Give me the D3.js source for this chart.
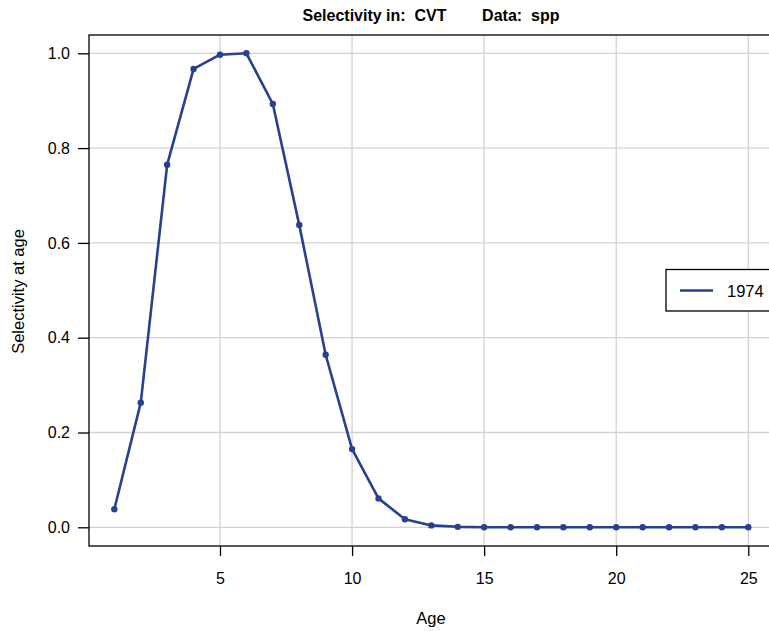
<!DOCTYPE html>
<html><head><meta charset="utf-8">
<script src="https://cdn.jsdelivr.net/npm/d3@7"></script>
<style>body{margin:0;background:#fff}svg{display:block;font-family:"Liberation Sans",Arial,sans-serif}</style>
</head><body>
<script>
const ages = d3.range(1, 26);
const selectivity = [0.038, 0.263, 0.765, 0.967, 0.997, 1.0, 0.893, 0.638, 0.364, 0.165, 0.061, 0.017, 0.004, 0.001, 0, 0, 0, 0, 0, 0, 0, 0, 0, 0, 0];
const xTicks = [5, 10, 15, 20, 25];
const yTicks = [0, 0.2, 0.4, 0.6, 0.8, 1.0];
const seriesName = "1974";
const title = "Selectivity in:  CVT        Data:  spp";

const W = 769, H = 631;
const L = 89, T = 35, R = 780, B = 546;
const color = "#27408f";
const svg = d3.select("body").append("svg").attr("width", W).attr("height", H);
const x = d3.scaleLinear().domain([5, 25]).range([220, 748.3]);
const y = d3.scaleLinear().domain([0, 1]).range([527.3, 53.3]);

const g = svg.append("g");
g.selectAll(".vg").data(xTicks).join("line")
  .attr("x1", d => x(d)).attr("x2", d => x(d)).attr("y1", T).attr("y2", B)
  .attr("stroke", "#d3d3d3").attr("stroke-width", 1.3);
g.selectAll(".hg").data(yTicks).join("line")
  .attr("x1", L).attr("x2", R).attr("y1", d => y(d)).attr("y2", d => y(d))
  .attr("stroke", "#d3d3d3").attr("stroke-width", 1.3);

svg.append("rect").attr("x", L).attr("y", T).attr("width", R - L).attr("height", B - T)
  .attr("fill", "none").attr("stroke", "#000").attr("stroke-width", 1.3);

const xAxis = d3.axisBottom(x).tickValues(xTicks).tickFormat(d3.format("d")).tickSize(10).tickPadding(17);
const xa = svg.append("g").attr("transform", `translate(0,${B})`).call(xAxis);
xa.select(".domain").remove();
xa.selectAll("line").attr("stroke-width", 1.3);
xa.selectAll("text").attr("font-size", 16).attr("fill", "#000").attr("font-family", "Liberation Sans, Arial");

const yAxis = d3.axisLeft(y).tickValues(yTicks).tickFormat(d3.format(".1f")).tickSize(11).tickPadding(8);
const ya = svg.append("g").attr("transform", `translate(${L},0)`).call(yAxis);
ya.select(".domain").remove();
ya.selectAll("line").attr("stroke-width", 1.3);
ya.selectAll("text").attr("font-size", 16).attr("fill", "#000").attr("font-family", "Liberation Sans, Arial");

const line = d3.line().x((d, i) => x(ages[i])).y(d => y(d));
svg.append("path").datum(selectivity).attr("d", line)
  .attr("fill", "none").attr("stroke", color).attr("stroke-width", 2.6).attr("stroke-linejoin", "round");
svg.selectAll(".pt").data(selectivity).join("circle")
  .attr("cx", (d, i) => x(ages[i])).attr("cy", d => y(d)).attr("r", 3.2).attr("fill", color);

svg.append("text").attr("x", 431).attr("y", 21).attr("text-anchor", "middle")
  .attr("font-size", 16).attr("font-weight", "bold")
  .style("white-space", "pre").text(title);
svg.append("text").attr("x", 431).attr("y", 624).attr("text-anchor", "middle").attr("font-size", 16.5).text("Age");
svg.append("text").attr("transform", "translate(24,291.5) rotate(-90)").attr("text-anchor", "middle")
  .attr("font-size", 16.5).text("Selectivity at age");

const lg = svg.append("g");
lg.append("rect").attr("x", 666).attr("y", 269.5).attr("width", 120).attr("height", 41.5)
  .attr("fill", "#fff").attr("stroke", "#000").attr("stroke-width", 1.3);
lg.append("line").attr("x1", 680).attr("x2", 713).attr("y1", 290.5).attr("y2", 290.5)
  .attr("stroke", color).attr("stroke-width", 2.6);
lg.append("text").attr("x", 727).attr("y", 297).attr("font-size", 16.5).text(seriesName);
</script>
</body></html>
